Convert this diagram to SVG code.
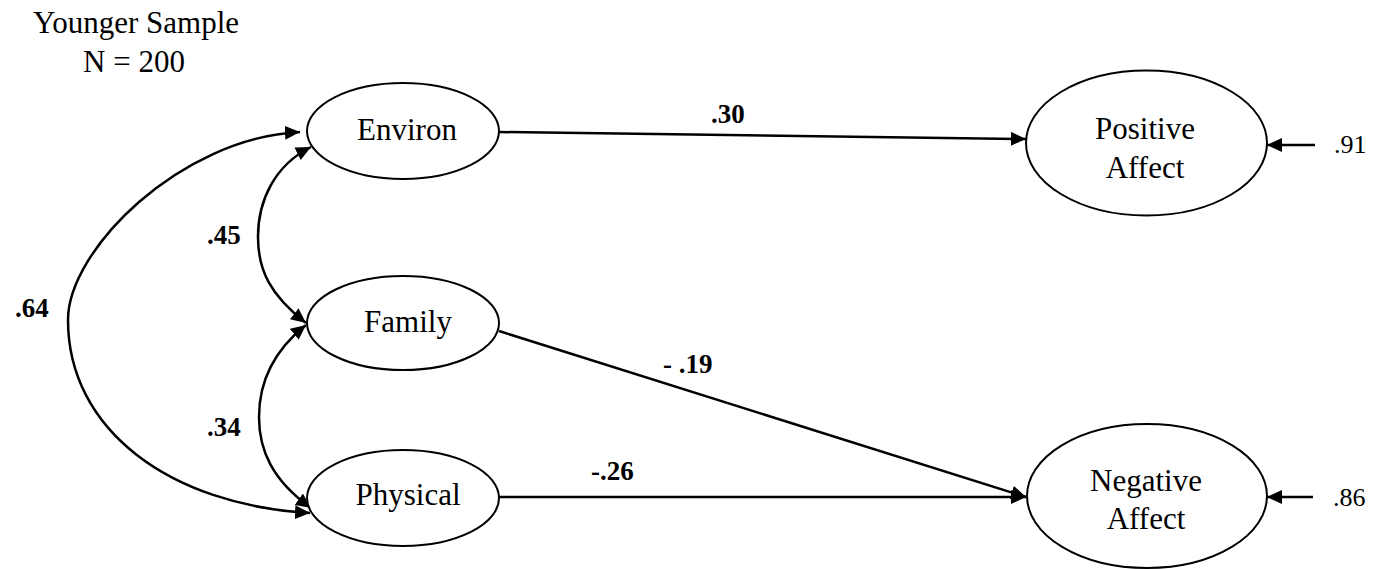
<svg xmlns="http://www.w3.org/2000/svg" width="1374" height="569" viewBox="0 0 1374 569">
<style>
.node{fill:#fff;stroke:#000;stroke-width:2}
.t{font-family:'Liberation Serif','Tinos','DejaVu Serif',serif;font-size:31px;fill:#000;text-anchor:middle}
.lbl{font-family:'Liberation Serif','Tinos','DejaVu Serif',serif;font-size:27px;font-weight:bold;fill:#000}
.res{font-family:'Liberation Serif','Tinos','DejaVu Serif',serif;font-size:26px;fill:#000}
.c{fill:none;stroke:#000;stroke-width:2.5}
</style>
<defs>
<marker id="ah" markerUnits="userSpaceOnUse" markerWidth="16" markerHeight="14" refX="15" refY="7" orient="auto-start-reverse" viewBox="0 0 16 14">
<path d="M0,0 L15,7 L0,14 z" fill="#000"/>
</marker>
</defs>
<rect width="1374" height="569" fill="#fff"/>
<g id="title">
<text class="t" x="136" y="33">Younger Sample</text>
<text class="t" x="134" y="72">N = 200</text>
</g>
<g id="connectors">
<path class="c" d="M300,132 C180,138 68,250 68,320 C68,430 170,505 310,513" marker-start="url(#ah)" marker-end="url(#ah)"/>
<path class="c" d="M311,147 C275,165 258,200 258,237 C258,270 270,295 306,323" marker-start="url(#ah)" marker-end="url(#ah)"/>
<path class="c" d="M306,325 C272,352 259,385 259,417 C259,450 272,480 311,508" marker-start="url(#ah)" marker-end="url(#ah)"/>
<line class="c" x1="499" y1="132" x2="1026" y2="139" marker-end="url(#ah)"/>
<line class="c" x1="499" y1="331" x2="1026" y2="497" marker-end="url(#ah)"/>
<line class="c" x1="499" y1="497" x2="1026" y2="497" marker-end="url(#ah)"/>
<line class="c" x1="1315" y1="145" x2="1267" y2="145" marker-end="url(#ah)"/>
<line class="c" x1="1313" y1="497" x2="1267" y2="497" marker-end="url(#ah)"/>
<text class="lbl" x="15" y="317">.64</text>
<text class="lbl" x="207" y="244">.45</text>
<text class="lbl" x="207" y="436">.34</text>
<text class="lbl" x="711" y="123">.30</text>
<text class="lbl" x="663" y="373">- .19</text>
<text class="lbl" x="591" y="480">-.26</text>
<text class="res" x="1334" y="153">.91</text>
<text class="res" x="1333" y="506">.86</text>
</g>
<g id="environ">
<ellipse class="node" cx="403" cy="131" rx="96" ry="48"/>
<text class="t" x="407" y="140">Environ</text>
</g>
<g id="family">
<ellipse class="node" cx="403" cy="323" rx="96" ry="47"/>
<text class="t" x="408" y="332">Family</text>
</g>
<g id="physical">
<ellipse class="node" cx="403" cy="498" rx="96" ry="48"/>
<text class="t" x="408" y="505">Physical</text>
</g>
<g id="positive">
<ellipse class="node" cx="1146.5" cy="143" rx="120.5" ry="72.5"/>
<text class="t" x="1145" y="139">Positive</text>
<text class="t" x="1145" y="177.5">Affect</text>
</g>
<g id="negative">
<ellipse class="node" cx="1147" cy="496" rx="120" ry="72"/>
<text class="t" x="1146" y="491">Negative</text>
<text class="t" x="1146" y="528.5">Affect</text>
</g>
</svg>
